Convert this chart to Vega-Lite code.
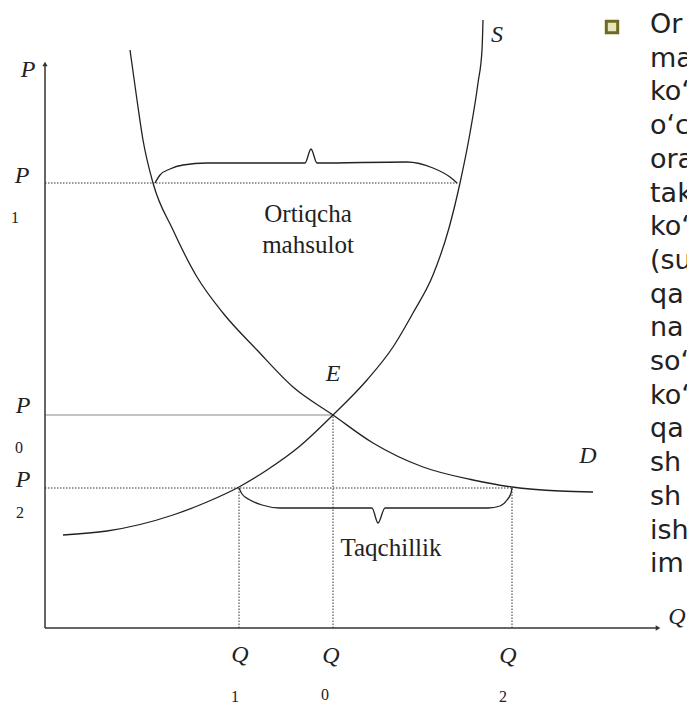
{
  "$schema": "https://vega.github.io/schema/vega-lite/v6.json",
  "width": 687,
  "height": 704,
  "padding": 0,
  "autosize": {"type": "none"},
  "background": "white",
  "config": {"view": {"stroke": null}},
  "encoding": {
    "x": {"field": "x", "type": "quantitative", "scale": {"domain": [-4.5, 64.2], "nice": false, "zero": false}, "axis": null},
    "y": {"field": "y", "type": "quantitative", "scale": {"domain": [-7.6, 62.8], "nice": false, "zero": false}, "axis": null}
  },
  "layer": [
    {
      "data": {"values": [
        {"x": 0, "y": 44.5, "x2": 41.3, "y2": 44.5},
        {"x": 0, "y": 14.0, "x2": 46.7, "y2": 14.0},
        {"x": 19.4, "y": 0, "x2": 19.4, "y2": 14.0},
        {"x": 28.8, "y": 0, "x2": 28.8, "y2": 21.3},
        {"x": 46.7, "y": 0, "x2": 46.7, "y2": 14.0}
      ]},
      "mark": {"type": "rule", "color": "#333", "strokeWidth": 1, "strokeDash": [1.5, 1.5]},
      "encoding": {"x2": {"field": "x2"}, "y2": {"field": "y2"}}
    },
    {
      "data": {"values": [{"x": 0, "y": 21.3, "x2": 28.8, "y2": 21.3}]},
      "mark": {"type": "rule", "color": "#888", "strokeWidth": 1},
      "encoding": {"x2": {"field": "x2"}, "y2": {"field": "y2"}}
    },
    {
      "data": {"values": [
        {"x": 0, "y": 0, "x2": 0, "y2": 56.4},
        {"x": 0, "y": 0, "x2": 61.2, "y2": 0}
      ]},
      "mark": {"type": "rule", "color": "#333", "strokeWidth": 1.5},
      "encoding": {"x2": {"field": "x2"}, "y2": {"field": "y2"}}
    },
    {
      "data": {"values": [
        {"x": 0, "y": 56.4, "shape": "triangle-up"},
        {"x": 61.3, "y": 0, "shape": "triangle-right"}
      ]},
      "mark": {"type": "point", "filled": true, "color": "#333", "size": 28, "opacity": 1},
      "encoding": {"shape": {"field": "shape", "type": "nominal", "scale": null}}
    },
    {
      "data": {"values": [
        {"s": "D", "o": 1, "x": 8.5, "y": 57.8},
        {"s": "D", "o": 2, "x": 9.2, "y": 52.8},
        {"s": "D", "o": 3, "x": 9.8, "y": 48.8},
        {"s": "D", "o": 4, "x": 10.8, "y": 44.5},
        {"s": "D", "o": 5, "x": 12.8, "y": 39.8},
        {"s": "D", "o": 6, "x": 15.2, "y": 35.1},
        {"s": "D", "o": 7, "x": 17.8, "y": 31.5},
        {"s": "D", "o": 8, "x": 21.2, "y": 27.8},
        {"s": "D", "o": 9, "x": 24.8, "y": 24.1},
        {"s": "D", "o": 10, "x": 28.8, "y": 21.3},
        {"s": "D", "o": 11, "x": 32.8, "y": 18.5},
        {"s": "D", "o": 12, "x": 37.8, "y": 16.1},
        {"s": "D", "o": 13, "x": 42.8, "y": 14.8},
        {"s": "D", "o": 14, "x": 46.7, "y": 14.1},
        {"s": "D", "o": 15, "x": 51.5, "y": 13.7},
        {"s": "D", "o": 16, "x": 54.8, "y": 13.6},
        {"s": "S", "o": 1, "x": 1.8, "y": 9.3},
        {"s": "S", "o": 2, "x": 6.2, "y": 9.7},
        {"s": "S", "o": 3, "x": 12.8, "y": 11.3},
        {"s": "S", "o": 4, "x": 16.2, "y": 12.6},
        {"s": "S", "o": 5, "x": 19.4, "y": 14.1},
        {"s": "S", "o": 6, "x": 22.2, "y": 15.8},
        {"s": "S", "o": 7, "x": 25.5, "y": 18.2},
        {"s": "S", "o": 8, "x": 28.8, "y": 21.3},
        {"s": "S", "o": 9, "x": 32.2, "y": 24.8},
        {"s": "S", "o": 10, "x": 34.8, "y": 28.1},
        {"s": "S", "o": 11, "x": 36.8, "y": 31.5},
        {"s": "S", "o": 12, "x": 38.8, "y": 35.3},
        {"s": "S", "o": 13, "x": 40.4, "y": 40.0},
        {"s": "S", "o": 14, "x": 41.5, "y": 44.5},
        {"s": "S", "o": 15, "x": 42.5, "y": 49.5},
        {"s": "S", "o": 16, "x": 43.3, "y": 54.5},
        {"s": "S", "o": 17, "x": 43.7, "y": 57.8},
        {"s": "S", "o": 18, "x": 43.8, "y": 60.8},
        {"s": "B1", "o": 1, "x": 11.0, "y": 44.5},
        {"s": "B1", "o": 2, "x": 11.5, "y": 45.3},
        {"s": "B1", "o": 3, "x": 12.5, "y": 45.9},
        {"s": "B1", "o": 4, "x": 13.8, "y": 46.3},
        {"s": "B1", "o": 5, "x": 16.2, "y": 46.5},
        {"s": "B1", "o": 6, "x": 26.0, "y": 46.5},
        {"s": "B1", "o": 7, "x": 26.6, "y": 47.9},
        {"s": "B1", "o": 8, "x": 27.2, "y": 46.5},
        {"s": "B1", "o": 9, "x": 36.2, "y": 46.6},
        {"s": "B1", "o": 10, "x": 38.8, "y": 46.0},
        {"s": "B1", "o": 11, "x": 40.5, "y": 45.1},
        {"s": "B1", "o": 12, "x": 41.2, "y": 44.5},
        {"s": "B2", "o": 1, "x": 19.4, "y": 14.0},
        {"s": "B2", "o": 2, "x": 19.7, "y": 13.4},
        {"s": "B2", "o": 3, "x": 20.5, "y": 12.8},
        {"s": "B2", "o": 4, "x": 21.7, "y": 12.3},
        {"s": "B2", "o": 5, "x": 23.5, "y": 12.0},
        {"s": "B2", "o": 6, "x": 32.7, "y": 12.0},
        {"s": "B2", "o": 7, "x": 33.3, "y": 10.5},
        {"s": "B2", "o": 8, "x": 34.0, "y": 12.0},
        {"s": "B2", "o": 9, "x": 44.3, "y": 12.0},
        {"s": "B2", "o": 10, "x": 45.5, "y": 12.2},
        {"s": "B2", "o": 11, "x": 46.2, "y": 12.8},
        {"s": "B2", "o": 12, "x": 46.6, "y": 13.5},
        {"s": "B2", "o": 13, "x": 46.7, "y": 14.0}
      ]},
      "mark": {"type": "line", "color": "#222", "strokeWidth": 1.3, "interpolate": "monotone"},
      "encoding": {"detail": {"field": "s", "type": "nominal"}, "order": {"field": "o", "type": "quantitative"}}
    },
    {
      "data": {"values": [
        {"x": -1.7, "y": 55.1, "t": "P"},
        {"x": -2.3, "y": 44.5, "t": "P"},
        {"x": -2.2, "y": 21.5, "t": "P"},
        {"x": -2.2, "y": 14.1, "t": "P"},
        {"x": 19.5, "y": -3.4, "t": "Q"},
        {"x": 28.6, "y": -3.5, "t": "Q"},
        {"x": 46.3, "y": -3.5, "t": "Q"},
        {"x": 63.2, "y": 0.4, "t": "Q"},
        {"x": 28.8, "y": 24.7, "t": "E"},
        {"x": 45.2, "y": 58.6, "t": "S"},
        {"x": 54.3, "y": 16.5, "t": "D"}
      ]},
      "mark": {"type": "text", "font": "Liberation Serif", "fontStyle": "italic", "fontSize": 24, "align": "center", "baseline": "alphabetic", "color": "#222"},
      "encoding": {"text": {"field": "t"}}
    },
    {
      "data": {"values": [
        {"x": -3.0, "y": 40.5, "t": "1"},
        {"x": -2.6, "y": 17.5, "t": "0"},
        {"x": -2.5, "y": 11.0, "t": "2"},
        {"x": 19.0, "y": -7.4, "t": "1"},
        {"x": 28.0, "y": -7.2, "t": "0"},
        {"x": 45.8, "y": -7.4, "t": "2"}
      ]},
      "mark": {"type": "text", "font": "Liberation Serif", "fontSize": 16, "align": "center", "baseline": "alphabetic", "color": "#222"},
      "encoding": {"text": {"field": "t"}}
    },
    {
      "data": {"values": [
        {"x": 26.3, "y": 40.6, "t": "Ortiqcha"},
        {"x": 26.3, "y": 37.5, "t": "mahsulot"},
        {"x": 34.6, "y": 7.2, "t": "Taqchillik"}
      ]},
      "mark": {"type": "text", "font": "Liberation Serif", "fontSize": 25, "align": "center", "baseline": "alphabetic", "color": "#222"},
      "encoding": {"text": {"field": "t"}}
    },
    {
      "data": {"values": [{"x": 56.7, "y": 60.1}]},
      "mark": {"type": "point", "shape": "square", "filled": true, "fill": "#e8e5bd", "stroke": "#6b6b22", "strokeWidth": 3, "size": 130, "opacity": 1}
    },
    {
      "data": {"values": [
        {"x": 60.5, "y": 59.5, "t": "Or"},
        {"x": 60.5, "y": 56.13, "t": "ma"},
        {"x": 60.5, "y": 52.76, "t": "ko‘"},
        {"x": 60.5, "y": 49.39, "t": "o‘c"},
        {"x": 60.5, "y": 46.02, "t": "ora"},
        {"x": 60.5, "y": 42.65, "t": "tak"},
        {"x": 60.5, "y": 39.28, "t": "ko‘"},
        {"x": 60.5, "y": 35.91, "t": "(su"},
        {"x": 60.5, "y": 32.54, "t": "qa"},
        {"x": 60.5, "y": 29.17, "t": "na"},
        {"x": 60.5, "y": 25.8, "t": "so‘"},
        {"x": 60.5, "y": 22.43, "t": "ko‘"},
        {"x": 60.5, "y": 19.06, "t": "qa"},
        {"x": 60.5, "y": 15.69, "t": "sh"},
        {"x": 60.5, "y": 12.32, "t": "sh"},
        {"x": 60.5, "y": 8.95, "t": "ish"},
        {"x": 60.5, "y": 5.58, "t": "im"}
      ]},
      "mark": {"type": "text", "font": "DejaVu Sans", "fontSize": 27, "align": "left", "baseline": "alphabetic", "color": "#222"},
      "encoding": {"text": {"field": "t"}}
    }
  ]
}
